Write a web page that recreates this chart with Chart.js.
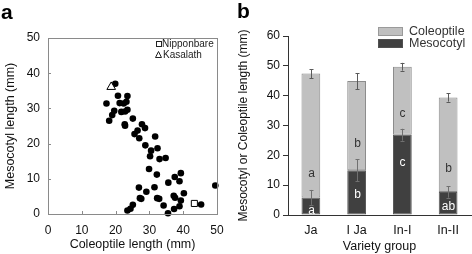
<!DOCTYPE html>
<html lang="en">
<head>
<meta charset="UTF-8" />
<title>Mesocotyl and coleoptile length</title>
<script src="https://cdn.jsdelivr.net/npm/chart.js"></script>
<style>
  body { margin: 0; background: #fff; font-family: Arial, "Liberation Sans", sans-serif; }
  .wrap { position: relative; width: 472px; height: 254px; overflow: hidden; }
  .panel { position: absolute; top: 0; width: 236px; height: 254px; }
  #panelA { left: 0; }
  #panelB { left: 236px; }
  .tag { position: absolute; font-weight: bold; font-size: 21px; line-height: 1; color: #000; }
</style>
</head>
<body>
<div class="wrap">
  <div class="panel" id="panelA"><canvas id="chartA" width="236" height="254"></canvas></div>
  <div class="panel" id="panelB"><canvas id="chartB" width="236" height="254"></canvas></div>
  <div class="tag" style="left:1px; top:1px;">a</div>
  <div class="tag" style="left:237px; top:0px;">b</div>
</div>

<script>
// ---- panel a: scatter of lines ----
const lineColeoptile = [19.9, 17.3, 20.7, 23.5, 21.2, 22.4, 23.2, 19.6, 19.0, 21.7, 22.8, 23.5, 18.1,
  22.7, 22.8, 25.1, 25.6, 26.5, 27.8, 28.7, 27.0, 28.8, 31.7, 30.5, 30.2, 32.4, 33.0, 34.8, 29.9,
  32.2, 35.6, 37.5, 39.3, 38.9, 26.9, 29.1, 31.5, 27.2, 27.6, 32.3, 32.9, 37.2, 37.6, 40.2, 39.3,
  38.9, 34.2, 37.3, 35.5, 25.1, 24.4, 23.5, 45.3, 49.5];
const lineMesocotyl = [37.0, 31.4, 33.6, 33.5, 31.5, 31.4, 31.9, 29.3, 28.1, 29.0, 29.1, 29.6, 26.5,
  25.5, 25.1, 27.1, 22.7, 23.7, 25.5, 24.4, 21.5, 19.5, 22.0, 18.0, 16.4, 18.7, 15.6, 15.9, 12.8,
  11.2, 8.9, 10.5, 11.6, 9.3, 7.5, 6.3, 7.6, 4.5, 4.3, 4.5, 4.3, 5.2, 4.6, 5.9, 3.8,
  2.2, 2.4, 1.4, 0.2, 2.6, 1.5, 1.0, 2.7, 8.1];
const nipponbare = [43.3, 3.0];   // [coleoptile, mesocotyl]
const kasalath = [18.7, 36.1];
const axisTicksA = [0, 10, 20, 30, 40, 50];

// ---- panel b: variety groups ----
const groups = ['Ja', 'I Ja', 'In-I', 'In-II'];
const mesoLen = [5.9, 15.0, 26.9, 7.7];
const mesoErr = [2.5, 3.7, 2.0, 1.9];
const coleLen = [41.5, 29.9, 22.8, 31.7];
const totalErr = [1.5, 2.7, 1.3, 1.4];
const coleLetters = ['a', 'b', 'c', 'b'];
const coleLetterY = [13.9, 24.0, 34.0, 15.4];
const mesoLetters = ['a', 'b', 'c', 'ab'];
const mesoLetterY = [1.5, 6.9, 17.5, 2.9];

const FONT = 'Arial, "Liberation Sans", sans-serif';
Chart.defaults.font.family = FONT;
Chart.defaults.color = '#111';

// frame + inward ticks for the scatter
const frameA = {
  id: 'frameA',
  afterDraw(chart) {
    const { ctx, chartArea: a, scales: { x, y } } = chart;
    ctx.save();
    ctx.strokeStyle = '#8a8a8a';
    ctx.lineWidth = 1;
    ctx.strokeRect(Math.round(a.left) + 0.5, Math.round(a.top) + 0.5,
      Math.round(a.right - a.left), Math.round(a.bottom - a.top));
    ctx.beginPath();
    axisTicksA.slice(1, -1).forEach(v => {
      const px = Math.round(x.getPixelForValue(v)) + 0.5;
      ctx.moveTo(px, a.bottom);
      ctx.lineTo(px, a.bottom - 3);
      const py = Math.round(y.getPixelForValue(v)) + 0.5;
      ctx.moveTo(a.left, py);
      ctx.lineTo(a.left + 3, py);
    });
    ctx.stroke();

    // legend
    ctx.font = '10px ' + FONT;
    ctx.textBaseline = 'middle';
    ctx.strokeStyle = '#222';
    ctx.strokeRect(156.5, 41.5, 5, 5);
    ctx.beginPath();
    ctx.moveTo(158.5, 51.5);
    ctx.lineTo(155.5, 57.5);
    ctx.lineTo(161.5, 57.5);
    ctx.closePath();
    ctx.stroke();
    ctx.fillStyle = '#222';
    ctx.fillText('Nipponbare', 162, 44.5);
    ctx.fillText('Kasalath', 163, 55.5);
    ctx.restore();
  }
};

new Chart(document.getElementById('chartA'), {
  type: 'scatter',
  data: {
    datasets: [
      {
        label: 'Kasalath',
        data: [{ x: kasalath[0], y: kasalath[1] }],
        pointStyle: 'triangle',
        pointRadius: 5,
        backgroundColor: '#fff',
        borderColor: '#000',
        borderWidth: 1
      },
      {
        label: 'Nipponbare',
        data: [{ x: nipponbare[0], y: nipponbare[1] }],
        pointStyle: 'rect',
        pointRadius: 4.3,
        backgroundColor: '#fff',
        borderColor: '#000',
        borderWidth: 1
      },
      {
        label: 'Lines',
        data: lineColeoptile.map((c, i) => ({ x: c, y: lineMesocotyl[i] })),
        pointRadius: 3.3,
        backgroundColor: '#000',
        borderColor: '#000',
        borderWidth: 0
      }
    ]
  },
  options: {
    responsive: false,
    animation: false,
    clip: false,
    layout: { padding: { top: 38, right: 19, bottom: 0, left: 0 } },
    plugins: { legend: { display: false }, tooltip: { enabled: false } },
    scales: {
      x: {
        type: 'linear',
        min: 0, max: 50,
        afterBuildTicks(s) { s.ticks = axisTicksA.map(v => ({ value: v })); },
        ticks: { padding: 9, color: '#111', font: { size: 12 } },
        grid: { display: false, drawTicks: false },
        border: { display: false },
        title: { display: true, text: 'Coleoptile length (mm)', color: '#111',
          font: { size: 12.5 }, padding: { top: 0, bottom: 2 } },
        afterFit(s) { s.height = 40; }
      },
      y: {
        type: 'linear',
        min: 0, max: 50,
        afterBuildTicks(s) { s.ticks = axisTicksA.map(v => ({ value: v })); },
        ticks: { padding: 8, color: '#111', font: { size: 12 } },
        grid: { display: false, drawTicks: false },
        border: { display: false },
        title: { display: true, text: 'Mesocotyl length (mm)', color: '#111',
          font: { size: 12.5 }, padding: { top: 3, bottom: 0 } },
        afterFit(s) { s.width = 48; }
      }
    }
  },
  plugins: [frameA]
});

// error bars, letters and legend for the bars
const barExtras = {
  id: 'barExtras',
  afterDatasetsDraw(chart) {
    const { ctx, scales: { x, y } } = chart;
    ctx.save();
    ctx.lineWidth = 1;
    groups.forEach((g, i) => {
      const px = Math.round(x.getPixelForValue(i)) + 0.5;
      const total = mesoLen[i] + coleLen[i];
      [[mesoLen[i], mesoErr[i], '#707070'], [total, totalErr[i], '#5a5a5a']].forEach(([v, e, col]) => {
        const y1 = y.getPixelForValue(v + e), y2 = y.getPixelForValue(v - e);
        ctx.strokeStyle = col;
        ctx.beginPath();
        ctx.moveTo(px, y1); ctx.lineTo(px, y2);
        ctx.moveTo(px - 2, Math.round(y1) + 0.5); ctx.lineTo(px + 2, Math.round(y1) + 0.5);
        ctx.moveTo(px - 2, Math.round(y2) + 0.5); ctx.lineTo(px + 2, Math.round(y2) + 0.5);
        ctx.stroke();
      });
      ctx.font = '12px ' + FONT;
      ctx.textAlign = 'center';
      ctx.textBaseline = 'middle';
      ctx.fillStyle = '#333';
      ctx.fillText(coleLetters[i], px, y.getPixelForValue(coleLetterY[i]));
      ctx.fillStyle = '#fff';
      ctx.fillText(mesoLetters[i], px, y.getPixelForValue(mesoLetterY[i]));
    });
    ctx.restore();
  },
  afterDraw(chart) {
    const { ctx } = chart;
    ctx.save();
    const items = [['Coleoptile', '#c0c0c0', '#9a9a9a', 27], ['Mesocotyl', '#404040', '#505050', 39]];
    ctx.font = '12.5px ' + FONT;
    ctx.textBaseline = 'middle';
    ctx.textAlign = 'left';
    items.forEach(([t, fill, stroke, top]) => {
      ctx.fillStyle = fill;
      ctx.fillRect(142, top, 25, 9);
      ctx.strokeStyle = stroke;
      ctx.strokeRect(142.5, top + 0.5, 24, 8);
      ctx.fillStyle = '#333';
      ctx.fillText(t, 173, top + 4.5);
    });
    ctx.restore();
  }
};

new Chart(document.getElementById('chartB'), {
  type: 'bar',
  data: {
    labels: groups,
    datasets: [
      { label: 'Mesocotyl', data: mesoLen, backgroundColor: '#404040',
        borderColor: '#5a5a5a', borderWidth: 1, borderSkipped: false },
      { label: 'Coleoptile', data: coleLen, backgroundColor: '#c0c0c0',
        borderColor: '#8c8c8c', borderWidth: 1, borderSkipped: false }
    ]
  },
  options: {
    responsive: false,
    animation: false,
    layout: { padding: { top: 36, right: 1, bottom: 0, left: 0 } },
    datasets: { bar: { barPercentage: 0.41, categoryPercentage: 1 } },
    plugins: { legend: { display: false }, tooltip: { enabled: false } },
    scales: {
      x: {
        stacked: true,
        ticks: { padding: 8, color: '#111', font: { size: 12.5 } },
        grid: { display: false, drawTicks: false },
        border: { display: true, color: '#333' },
        title: { display: true, text: 'Variety group', color: '#111',
          font: { size: 12.5 }, padding: { top: 0, bottom: 0 } },
        afterFit(s) { s.height = 39; }
      },
      y: {
        stacked: true,
        min: 0, max: 60,
        ticks: { stepSize: 10, padding: 3, color: '#111', font: { size: 12 } },
        grid: { drawOnChartArea: false, drawTicks: true, tickLength: 5, color: '#333' },
        border: { display: true, color: '#333' },
        title: { display: true, text: 'Mesocotyl or Coleoptile length (mm)', color: '#111',
          font: { size: 12 }, padding: { top: 0, bottom: 0 } },
        afterFit(s) { s.width = 52; }
      }
    }
  },
  plugins: [barExtras]
});
</script>
</body>
</html>
